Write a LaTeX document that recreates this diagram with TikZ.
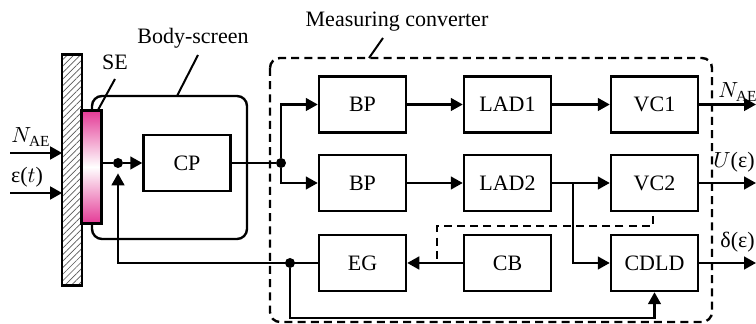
\documentclass[tikz,border=0pt]{standalone}
\usepackage{fontspec}
\setmainfont{Liberation Serif}
\usetikzlibrary{arrows.meta,patterns.meta}
\definecolor{sepink}{RGB}{228,58,150}

\begin{document}
\begin{tikzpicture}[x=0.5pt,y=-0.5pt,
 font=\fontsize{11}{12}\selectfont,
 block/.style={draw,line width=1.25pt,minimum width=43.5pt,minimum height=28pt,inner sep=0},
 junct/.style={circle,fill,inner sep=0,minimum size=5pt},
 sig/.style={line width=1.1pt,-{Triangle[length=6pt,width=6.4pt]}},
 wire/.style={line width=1.1pt},
 lead/.style={line width=1pt},
 frame/.style={line width=1.2pt,rounded corners=5pt}]
 \useasboundingbox (0,0) rectangle (756,324);

 % enclosures
 \draw[frame] (92,96) rectangle (247,239);
 \draw[frame,dash pattern=on 4pt off 2.6pt] (270,58) rectangle (712,322);

 % wall and sensing element
 \node[minimum width=9.5pt,minimum height=115pt,inner sep=0,fill=gray!20,
 pattern={Lines[angle=45,distance=2.3pt,line width=0.35pt]},pattern color=gray!70!black] (wall) at (72,170) {};
 \draw[line width=1.2pt] (wall.south west) rectangle (wall.north east);
 \node[minimum width=9.5pt,minimum height=56pt,inner sep=0] (se) at (91.5,167) {};
 \shade[top color=sepink,bottom color=sepink,middle color=white,draw,line width=1.2pt]
 (se.south west) rectangle (se.north east);

 % blocks
 \node[block] (cp) at (187,163) {CP};
 \node[block] (bp1) at (362.5,104.5) {BP};
 \node[block] (bp2) at (362.5,183) {BP};
 \node[block] (lad1) at (507.5,104.5) {LAD1};
 \node[block] (lad2) at (507.5,183) {LAD2};
 \node[block] (vc1) at (654.5,104.5) {VC1};
 \node[block] (vc2) at (654.5,183) {VC2};
 \node[block] (eg) at (362.5,263) {EG};
 \node[block] (cb) at (507.5,263) {CB};
 \node[block] (cdld) at (654.5,263) {CDLD};

 % junctions and bends
 \node[junct] (j1) at (118,163) {};
 \node[junct] (j2) at (281,163) {};
 \node[junct] (j3) at (290,263) {};
 \coordinate (br) at (573,183);
 \coordinate (fb) at (290,318);
 \coordinate (nin) at (10,153);
 \coordinate (ein) at (10,193);
 \coordinate (nout) at (756,104.5);
 \coordinate (uout) at (756,183);
 \coordinate (dout) at (756,263);
 \coordinate (tap) at (437,263);

 % inputs
 \draw[sig] (nin) -- (nin -| wall.west);
 \draw[sig] (ein) -- (ein -| wall.west);
 \node at (31,137) {$N_{\mathrm{AE}}$};
 \node at (27,177) {ε($t$)};

 % signal paths
 \draw[wire] (se.east |- j1) -- (j1);
 \draw[sig] (j1) -- (cp.west);
 \draw[wire] (cp.east) -- (j2);
 \draw[sig] (j2) |- (bp1.west);
 \draw[sig] (j2) |- (bp2.west);
 \draw[sig] (bp1) -- (lad1);
 \draw[sig] (bp2) -- (lad2);
 \draw[sig] (lad1) -- (vc1);
 \draw[sig] (lad2) -- (vc2);
 \draw[sig] (br) |- (cdld.west);
 \draw[sig] (cb) -- (eg);
 \draw[sig,shorten >=2.5pt] (eg.west) -| (j1);
 \draw[sig] (j3) -- (fb) -| (cdld.south);
 \draw[dash pattern=on 4pt off 2.6pt,line width=1.1pt] (653,216) -- (653,226) -| (tap);

 % outputs
 \draw[sig] (vc1) -- (nout);
 \draw[sig] (vc2) -- (uout);
 \draw[sig] (cdld) -- (dout);
 \node[anchor=west,inner sep=0] at (718,92) {$N_{\mathrm{AE}}$};
 \node[anchor=west,inner sep=0] at (713,162) {$U$(ε)};
 \node[anchor=west,inner sep=0] at (720,242) {δ(ε)};

 % captions with leaders
 \node at (115,62) {SE};
 \draw[lead] (115,79) -- (98,110);
 \node at (193,38) {Body-screen};
 \draw[lead] (198,55) -- (177,96);
 \node at (397,22) {Measuring converter};
 \draw[lead] (383,38) -- (369,58);
\end{tikzpicture}
\end{document}
